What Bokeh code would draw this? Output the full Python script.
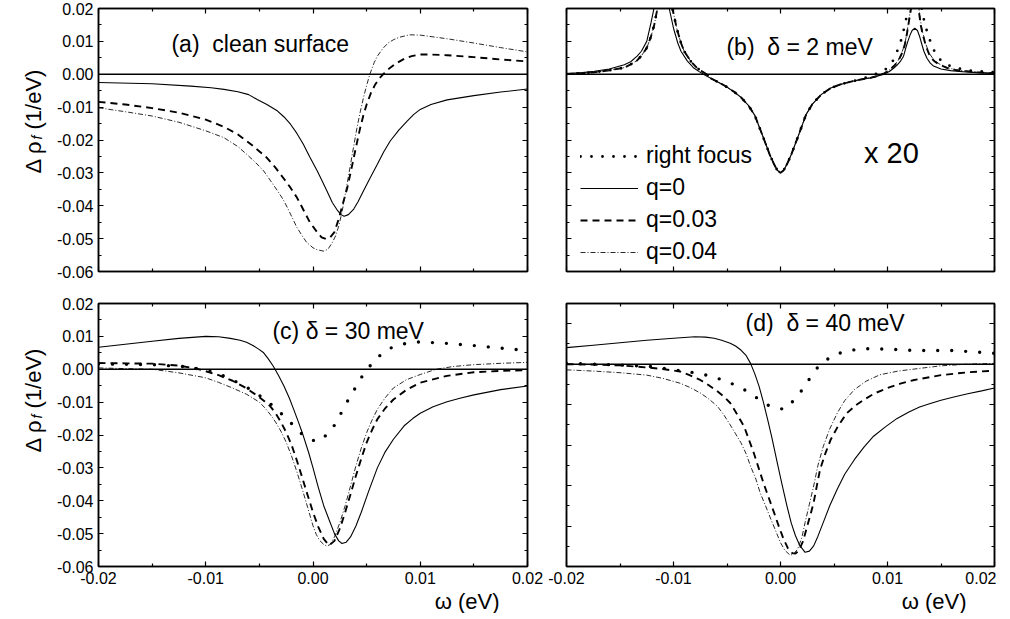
import math
from bokeh.plotting import figure
from bokeh.models import (FixedTicker, LinearAxis, Span, Label, Legend, LegendItem, Title,
                          CustomJSTickFormatter, PrintfTickFormatter, Range1d)
from bokeh.layouts import column, row
from bokeh.embed import file_html
from bokeh.resources import INLINE

FONT = "Liberation Sans"

# ---------------- tick values ----------------
x_ticks = [-0.02, -0.01, 0.0, 0.01, 0.02]
x_minor = [-0.015, -0.005, 0.005, 0.015]
y_ticks = [-0.06, -0.05, -0.04, -0.03, -0.02, -0.01, 0.0, 0.01, 0.02]
y_minor = [-0.055, -0.045, -0.035, -0.025, -0.015, -0.005, 0.005, 0.015]
yd_ticks = [-0.05, -0.04, -0.03, -0.02, -0.01, 0.0, 0.01]
yd_minor = [-0.045, -0.035, -0.025, -0.015, -0.005, 0.005, 0.015]

# ---------------- panel (a): clean surface  (omega, d rho) ----------------
a_q0 = [(-0.02, -0.0025), (-0.015, -0.0029), (-0.0114, -0.0036), (-0.0095, -0.0041), (-0.0083, -0.0046),
        (-0.007, -0.0053), (-0.006, -0.0062), (-0.0052, -0.0077), (-0.0043, -0.0092), (-0.0033, -0.0112),
        (-0.0027, -0.0130), (-0.0021, -0.0152), (-0.0015, -0.0180), (-0.0009, -0.0213), (-0.0003, -0.0252),
        (0.0004, -0.0294), (0.0009, -0.0328), (0.0013, -0.0355), (0.0018, -0.0390), (0.0023, -0.0415),
        (0.0026, -0.0427), (0.0029, -0.0432), (0.0033, -0.0427), (0.0038, -0.0410), (0.0042, -0.0388),
        (0.0047, -0.0355), (0.0053, -0.0317), (0.006, -0.0274), (0.0066, -0.0236), (0.0072, -0.0203),
        (0.008, -0.0170), (0.0088, -0.0142), (0.0094, -0.0122), (0.01, -0.0107), (0.011, -0.0092),
        (0.0125, -0.0078), (0.015, -0.0065), (0.0175, -0.0054), (0.02, -0.0045)]
a_q3 = [(-0.02, -0.0084), (-0.0175, -0.0092), (-0.015, -0.0103), (-0.0125, -0.0117), (-0.01, -0.0138),
        (-0.0083, -0.0160), (-0.007, -0.0183), (-0.0057, -0.0215), (-0.0043, -0.0254), (-0.0035, -0.0284),
        (-0.0028, -0.0314), (-0.0021, -0.0345), (-0.0015, -0.0375), (-0.0009, -0.0412), (-0.0003, -0.0450),
        (0.0004, -0.0481), (0.0008, -0.0496), (0.0012, -0.0501), (0.0016, -0.0496), (0.002, -0.0480),
        (0.0024, -0.0440), (0.0028, -0.0392), (0.0032, -0.0345), (0.0035, -0.0300), (0.0038, -0.0254),
        (0.0041, -0.0208), (0.0044, -0.0163), (0.0047, -0.0125), (0.005, -0.0092), (0.0054, -0.0057),
        (0.0058, -0.0031), (0.0062, -0.0012), (0.0066, 0.0002), (0.0072, 0.0020), (0.0078, 0.0034),
        (0.0085, 0.0047), (0.0092, 0.0055), (0.01, 0.0060), (0.011, 0.0060), (0.0125, 0.0058),
        (0.015, 0.0052), (0.0175, 0.0045), (0.02, 0.0039)]
a_q4 = [(-0.02, -0.0102), (-0.0175, -0.0114), (-0.015, -0.0127), (-0.0125, -0.0146), (-0.01, -0.0172),
        (-0.0083, -0.0193), (-0.007, -0.0220), (-0.0062, -0.0243), (-0.0054, -0.0267), (-0.0046, -0.0294),
        (-0.004, -0.0322), (-0.0033, -0.0355), (-0.0028, -0.0380), (-0.0024, -0.0405), (-0.002, -0.0432),
        (-0.0015, -0.0466), (-0.001, -0.0492), (-0.0006, -0.0511), (0.0, -0.0528), (0.0004, -0.0534),
        (0.001, -0.0538), (0.0014, -0.0532), (0.0018, -0.0512), (0.0021, -0.0492), (0.0024, -0.0462),
        (0.0027, -0.0420), (0.0029, -0.0385), (0.0032, -0.0330), (0.0035, -0.0274), (0.0038, -0.0218),
        (0.0041, -0.0163), (0.0044, -0.0115), (0.0047, -0.0072), (0.005, -0.0034), (0.0053, 0.0),
        (0.0057, 0.0035), (0.006, 0.0055), (0.0065, 0.0078), (0.007, 0.0095), (0.0075, 0.0105),
        (0.008, 0.0112), (0.009, 0.0120), (0.01, 0.0119), (0.0125, 0.0108), (0.015, 0.0095),
        (0.0175, 0.0081), (0.02, 0.0068)]

# ---------------- panel (b): delta = 2 meV (x 20) ----------------
b_left_q0 = [(-0.02, 0.0002), (-0.0185, 0.0005), (-0.0174, 0.0009), (-0.016, 0.0016), (-0.0146, 0.0029),
             (-0.014, 0.0038), (-0.0134, 0.0055), (-0.013, 0.0070), (-0.0125, 0.0100), (-0.0121, 0.0157),
             (-0.0117, 0.0220), (-0.0113, 0.0300), (-0.011, 0.0350), (-0.0107, 0.0280), (-0.0104, 0.0200),
             (-0.01, 0.0140), (-0.0096, 0.0095), (-0.0093, 0.0070), (-0.0087, 0.0040), (-0.0081, 0.0019),
             (-0.0076, 0.0008), (-0.0072, 0.0)]
b_left_q = [(-0.02, 0.0001), (-0.0185, 0.0003), (-0.0174, 0.0006), (-0.016, 0.0012), (-0.0146, 0.0020),
            (-0.014, 0.0030), (-0.0134, 0.0042), (-0.013, 0.0056), (-0.0125, 0.0080), (-0.0121, 0.0115),
            (-0.0118, 0.0150), (-0.0115, 0.0200), (-0.0111, 0.0280), (-0.0107, 0.0350), (-0.0104, 0.0280),
            (-0.0101, 0.0200), (-0.0097, 0.0140), (-0.0093, 0.0095), (-0.009, 0.0070), (-0.0084, 0.0040),
            (-0.0078, 0.0019), (-0.0073, 0.0008), (-0.0069, 0.0)]
b_dip = [(-0.0066, -0.0011), (-0.006, -0.0021), (-0.0052, -0.0035), (-0.0044, -0.0052), (-0.0037, -0.0070),
         (-0.003, -0.0095), (-0.0024, -0.0125), (-0.0016, -0.0193), (-0.001, -0.0245), (-0.0006, -0.0274),
         (-0.0003, -0.0292), (0.0, -0.0300), (0.0003, -0.0292), (0.0006, -0.0274), (0.001, -0.0245),
         (0.0016, -0.0193), (0.0024, -0.0122), (0.003, -0.0090), (0.0038, -0.0062), (0.0047, -0.0042),
         (0.0056, -0.0031), (0.0065, -0.0023), (0.0075, -0.0016), (0.0084, -0.0011), (0.0091, -0.0005)]
b_right_q0 = [(0.0097, 0.0), (0.0102, 0.0009), (0.0106, 0.0019), (0.0109, 0.0028), (0.0112, 0.0039),
              (0.0115, 0.0055), (0.0117, 0.0079), (0.0119, 0.0100), (0.0121, 0.0119), (0.0123, 0.0133),
              (0.01255, 0.0140), (0.0128, 0.0133), (0.013, 0.0115), (0.0132, 0.0092), (0.0134, 0.0070),
              (0.0137, 0.0048), (0.014, 0.0034), (0.0143, 0.0025), (0.015, 0.0016), (0.0159, 0.0011),
              (0.017, 0.0008), (0.0184, 0.0005), (0.02, 0.0002)]
b_right_q3 = [(0.0097, 0.0003), (0.0102, 0.0013), (0.0106, 0.0025), (0.011, 0.0040), (0.0113, 0.0060),
              (0.0116, 0.0088), (0.0118, 0.0120), (0.012, 0.0160), (0.0122, 0.0200), (0.0124, 0.0280),
              (0.01255, 0.0350), (0.0127, 0.0280), (0.0129, 0.0200), (0.0131, 0.0150), (0.0133, 0.0120),
              (0.0136, 0.0085), (0.0139, 0.0060), (0.0143, 0.0042), (0.0148, 0.0030), (0.0156, 0.0019),
              (0.0165, 0.0012), (0.0184, 0.0006), (0.02, 0.0003)]
b_right_q4 = [(0.0097, 0.0003), (0.0102, 0.0014), (0.0106, 0.0026), (0.011, 0.0042), (0.0113, 0.0062),
              (0.0116, 0.0090), (0.0118, 0.0122), (0.012, 0.0165), (0.0122, 0.0210), (0.0124, 0.0290),
              (0.01255, 0.0350), (0.0127, 0.0290), (0.0129, 0.0210), (0.0131, 0.0160), (0.0133, 0.0125),
              (0.0136, 0.0090), (0.0139, 0.0064), (0.0143, 0.0045), (0.0148, 0.0032), (0.0156, 0.0020),
              (0.0165, 0.0013), (0.0184, 0.0006), (0.02, 0.0003)]
b_right_rf = [(0.0095, 0.0008), (0.0099, 0.0017), (0.0103, 0.0030), (0.0106, 0.0046), (0.0109, 0.0070),
              (0.0112, 0.0095), (0.0114, 0.0120), (0.0117, 0.0160), (0.0119, 0.0200), (0.0122, 0.0280),
              (0.01255, 0.0400), (0.0129, 0.0280), (0.0132, 0.0200), (0.0135, 0.0150), (0.0137, 0.0130),
              (0.014, 0.0100), (0.0142, 0.0080), (0.0146, 0.0060), (0.0149, 0.0045), (0.0155, 0.0032),
              (0.016, 0.0022), (0.0175, 0.0012), (0.019, 0.0008), (0.02, 0.0006)]

# ---------------- panel (c): delta = 30 meV ----------------
c_q0 = [(-0.02, 0.0067), (-0.0175, 0.0076), (-0.015, 0.0085), (-0.0125, 0.0094), (-0.01, 0.0100),
        (-0.0088, 0.0099), (-0.0077, 0.0094), (-0.0068, 0.0088), (-0.0062, 0.0082), (-0.0056, 0.0072),
        (-0.0051, 0.0062), (-0.0046, 0.0050), (-0.0042, 0.0033), (-0.0037, 0.0009), (-0.0032, -0.0020),
        (-0.0027, -0.0052), (-0.0022, -0.0088), (-0.0018, -0.0122), (-0.0014, -0.0157), (-0.001, -0.0193),
        (-0.0004, -0.0254), (0.0, -0.0300), (0.0005, -0.0360), (0.001, -0.0415), (0.0015, -0.0458),
        (0.002, -0.0500), (0.0024, -0.0522), (0.0027, -0.0530), (0.0031, -0.0526), (0.0035, -0.0510),
        (0.004, -0.0477), (0.0045, -0.0435), (0.0052, -0.0370), (0.006, -0.0300), (0.0067, -0.0253),
        (0.0075, -0.0213), (0.0085, -0.0172), (0.0093, -0.0150), (0.01, -0.0134), (0.0112, -0.0114),
        (0.0125, -0.0099), (0.0137, -0.0088), (0.015, -0.0078), (0.0175, -0.0062), (0.02, -0.0051)]
c_q3 = [(-0.02, 0.0019), (-0.0175, 0.0018), (-0.015, 0.0017), (-0.0125, 0.0011), (-0.011, 0.0003),
        (-0.01, -0.0006), (-0.0088, -0.0018), (-0.0075, -0.0035), (-0.0062, -0.0058), (-0.005, -0.0085),
        (-0.0045, -0.0098), (-0.004, -0.0112), (-0.0035, -0.0133), (-0.003, -0.0160), (-0.0025, -0.0192),
        (-0.002, -0.0230), (-0.0015, -0.0278), (-0.001, -0.0330), (-0.0005, -0.0383), (0.0, -0.0435),
        (0.0005, -0.0480), (0.001, -0.0516), (0.0015, -0.0536), (0.002, -0.0522), (0.0025, -0.0485),
        (0.003, -0.0435), (0.0035, -0.0380), (0.004, -0.0324), (0.0045, -0.0272), (0.005, -0.0223),
        (0.0055, -0.0185), (0.006, -0.0152), (0.0067, -0.0120), (0.0075, -0.0092), (0.0087, -0.0063),
        (0.01, -0.0041), (0.0125, -0.0020), (0.015, -0.0009), (0.0175, -0.0005), (0.02, -0.0003)]
c_q4 = [(-0.02, 0.0004), (-0.0175, 0.0002), (-0.015, 0.0), (-0.0125, -0.0011), (-0.01, -0.0026),
        (-0.0088, -0.0040), (-0.0075, -0.0057), (-0.0062, -0.0076), (-0.005, -0.0100), (-0.0045, -0.0117),
        (-0.004, -0.0137), (-0.0035, -0.0160), (-0.003, -0.0188), (-0.0025, -0.0222), (-0.002, -0.0264),
        (-0.0015, -0.0312), (-0.001, -0.0365), (-0.0005, -0.0420), (0.0, -0.0476), (0.0003, -0.0502),
        (0.0006, -0.0520), (0.001, -0.0533), (0.0013, -0.0538), (0.0016, -0.0533), (0.002, -0.0510),
        (0.0025, -0.0467), (0.003, -0.0415), (0.0035, -0.0355), (0.004, -0.0294), (0.0045, -0.0240),
        (0.005, -0.0193), (0.0055, -0.0155), (0.006, -0.0122), (0.0067, -0.0088), (0.0075, -0.0057),
        (0.0087, -0.0032), (0.01, -0.0016), (0.0115, 0.0), (0.013, 0.0008), (0.015, 0.0014),
        (0.0175, 0.0018), (0.02, 0.0021)]
c_rf = [(-0.02, 0.0016), (-0.015, 0.0014), (-0.012, 0.0008), (-0.01, -0.0002), (-0.0085, -0.0018),
        (-0.0065, -0.0048), (-0.0051, -0.0077), (-0.0037, -0.0112), (-0.0024, -0.0152), (-0.001, -0.0198),
        (0.0003, -0.0221), (0.0016, -0.0193), (0.0024, -0.0147), (0.0031, -0.0104), (0.0039, -0.0059),
        (0.0047, -0.0015), (0.0058, 0.0030), (0.007, 0.0062), (0.0084, 0.0077), (0.0097, 0.0083),
        (0.012, 0.0080), (0.015, 0.0072), (0.02, 0.0057)]

# ---------------- panel (d): delta = 40 meV ----------------
d_q0 = [(-0.02, 0.0041), (-0.0175, 0.0047), (-0.015, 0.0053), (-0.0125, 0.0059), (-0.01, 0.0064),
        (-0.008, 0.0068), (-0.007, 0.0067), (-0.0062, 0.0064), (-0.0055, 0.0059), (-0.0047, 0.0052),
        (-0.0042, 0.0045), (-0.0037, 0.0035), (-0.0032, 0.0021), (-0.0028, 0.0002), (-0.0024, -0.0024),
        (-0.002, -0.0055), (-0.0016, -0.0094), (-0.0012, -0.0137), (-0.0008, -0.0182), (-0.0003, -0.0244),
        (0.0001, -0.0292), (0.0006, -0.0350), (0.001, -0.0392), (0.0014, -0.0424), (0.0018, -0.0448),
        (0.0023, -0.0465), (0.0027, -0.0462), (0.0031, -0.0449), (0.0035, -0.0425), (0.004, -0.0391),
        (0.0046, -0.0350), (0.0053, -0.0309), (0.006, -0.0272), (0.0069, -0.0236), (0.0078, -0.0205),
        (0.0087, -0.0178), (0.0098, -0.0155), (0.0109, -0.0134), (0.012, -0.0118), (0.013, -0.0106),
        (0.014, -0.0097), (0.015, -0.0089), (0.0162, -0.0081), (0.0175, -0.0073), (0.0188, -0.0066),
        (0.02, -0.0059)]
d_q3 = [(-0.02, 0.0), (-0.0175, -0.0001), (-0.015, -0.0003), (-0.0125, -0.0008), (-0.011, -0.0012),
        (-0.0094, -0.0018), (-0.0085, -0.0027), (-0.0075, -0.0039), (-0.0067, -0.0052), (-0.0059, -0.0067),
        (-0.0053, -0.0080), (-0.0047, -0.0096), (-0.0041, -0.0122), (-0.0034, -0.0154), (-0.003, -0.0183),
        (-0.0025, -0.0219), (-0.002, -0.0260), (-0.0016, -0.0293), (-0.0011, -0.0330), (-0.0006, -0.0367),
        (-0.0001, -0.0405), (0.0003, -0.0433), (0.0007, -0.0455), (0.0011, -0.0467), (0.0014, -0.0468),
        (0.0017, -0.0461), (0.0021, -0.0438), (0.0025, -0.0400), (0.0028, -0.0372), (0.0031, -0.0342),
        (0.0034, -0.0300), (0.0037, -0.0260), (0.0042, -0.0220), (0.0047, -0.0186), (0.0054, -0.0152),
        (0.0062, -0.0121), (0.007, -0.0102), (0.0078, -0.0088), (0.0088, -0.0072), (0.01, -0.0059),
        (0.0112, -0.0048), (0.0125, -0.0039), (0.015, -0.0027), (0.0175, -0.0020), (0.02, -0.0016)]
d_q4 = [(-0.02, -0.0014), (-0.0175, -0.0017), (-0.015, -0.0021), (-0.0125, -0.0027), (-0.011, -0.0035),
        (-0.0094, -0.0047), (-0.0085, -0.0057), (-0.0075, -0.0071), (-0.0067, -0.0086), (-0.0059, -0.0104),
        (-0.0053, -0.0125), (-0.0047, -0.0150), (-0.0042, -0.0172), (-0.0037, -0.0194), (-0.0032, -0.0222),
        (-0.0028, -0.0252), (-0.0023, -0.0284), (-0.0019, -0.0318), (-0.0014, -0.0350), (-0.0009, -0.0383),
        (-0.0004, -0.0415), (0.0, -0.0441), (0.0004, -0.0460), (0.0009, -0.0472), (0.0012, -0.0470),
        (0.0016, -0.0457), (0.002, -0.0428), (0.0023, -0.0391), (0.0027, -0.0346), (0.0031, -0.0301),
        (0.0035, -0.0250), (0.004, -0.0203), (0.0046, -0.0160), (0.0053, -0.0121), (0.006, -0.0090),
        (0.0069, -0.0063), (0.008, -0.0042), (0.0093, -0.0026), (0.011, -0.0017), (0.0125, -0.0012),
        (0.015, -0.0004), (0.0175, 0.0), (0.02, 0.0002)]
d_rf = [(-0.02, 0.0002), (-0.015, -0.0002), (-0.012, -0.0006), (-0.0094, -0.0016), (-0.0078, -0.0022),
        (-0.0064, -0.0030), (-0.005, -0.0043), (-0.0036, -0.0059), (-0.0024, -0.0080), (-0.001, -0.0104),
        (0.0004, -0.0112), (0.0016, -0.0080), (0.0025, -0.0044), (0.0035, -0.0007), (0.0048, 0.0021),
        (0.0062, 0.0033), (0.0076, 0.0038), (0.009, 0.0038), (0.0103, 0.0037), (0.0116, 0.0035),
        (0.0128, 0.0034), (0.016, 0.0034), (0.02, 0.0027)]

# ---------------- layout constants ----------------
FH = 263
FW_L = 429
FW_R = 428
STRIP_W = 54

SOLID = dict(line_color="black", line_width=1.1)
DASH = dict(line_color="black", line_width=1.9, line_dash="7 5")
DASHDOT = dict(line_color="#111111", line_width=0.9, line_dash="5 2 1 2")
DOT = dict(line_color="black", line_width=3.4, line_dash="0 14", line_cap="round")


def xy(pts):
    return [p[0] for p in pts], [p[1] for p in pts]


def style_axis(ax, labels):
    ax.axis_line_color = "black"
    ax.axis_line_width = 1.5
    ax.major_tick_in = 5
    ax.major_tick_out = 0
    ax.minor_tick_in = 3
    ax.minor_tick_out = 0
    ax.major_tick_line_color = "black"
    ax.minor_tick_line_color = "black"
    ax.major_tick_line_width = 1.2
    ax.minor_tick_line_width = 1.2
    if labels:
        ax.formatter = PrintfTickFormatter(format="%.2f")
        ax.major_label_text_font = FONT
        ax.major_label_text_font_size = "16px"
        ax.major_label_text_color = "black"
        ax.major_label_standoff = 5
    else:
        ax.formatter = CustomJSTickFormatter(code="return ''")
        ax.major_label_text_font_size = "0px"
        ax.major_label_standoff = 0


def make_panel(fw, ylo, yhi, yt, ym, xlabels, ylabels, borders):
    l, r, t, b = borders
    p = figure(frame_width=fw, frame_height=FH,
               x_range=Range1d(-0.02, 0.02), y_range=Range1d(ylo, yhi),
               output_backend="svg", toolbar_location=None,
               x_axis_location=None, y_axis_location=None,
               min_border_left=l, min_border_right=r, min_border_top=t, min_border_bottom=b)
    p.xgrid.visible = False
    p.ygrid.visible = False
    p.outline_line_color = "black"
    p.outline_line_width = 1.5
    p.background_fill_color = "white"
    p.border_fill_color = "white"
    for loc in ("below", "above"):
        ax = LinearAxis(ticker=FixedTicker(ticks=x_ticks, minor_ticks=x_minor))
        style_axis(ax, xlabels and loc == "below")
        p.add_layout(ax, loc)
    for loc in ("left", "right"):
        ax = LinearAxis(ticker=FixedTicker(ticks=yt, minor_ticks=ym))
        style_axis(ax, ylabels and loc == "left")
        p.add_layout(ax, loc)
    p.add_layout(Span(location=0, dimension="width", line_color="black", line_width=1.6))
    return p


def add_text(p, x, y, text, size="23px"):
    p.add_layout(Label(x=x, y=y, text=text, text_font=FONT, text_font_size=size,
                       text_color="black", text_align="left", text_baseline="middle"))


def make_ylabel_strip(top, bottom, y0):
    s = figure(frame_width=STRIP_W, frame_height=FH, x_range=Range1d(0, 1), y_range=Range1d(0, 1),
               output_backend="svg", toolbar_location=None,
               x_axis_location=None, y_axis_location=None,
               min_border_left=0, min_border_right=0, min_border_top=top, min_border_bottom=bottom)
    s.xgrid.visible = False
    s.ygrid.visible = False
    s.outline_line_color = None
    s.background_fill_color = "white"
    s.border_fill_color = "white"
    common = dict(x_units="screen", y_units="screen", angle=math.pi / 2,
                  text_baseline="alphabetic", text_align="left", text_color="black", text_font=FONT)
    s.add_layout(Label(x=33, y=y0, text="Δ ρ", text_font_size="22px", **common))
    s.add_layout(Label(x=36, y=y0 + 34, text="f", text_font_size="14px",
                       text_font_style="italic", **common))
    s.add_layout(Label(x=33, y=y0 + 44, text="(1/eV)", text_font_size="22px", **common))
    return s


def add_xlabel(p):
    p.add_layout(Title(text="ω (eV)", align="right", offset=28, standoff=0,
                       text_font=FONT, text_font_size="22px", text_font_style="normal",
                       text_color="black"), "below")


# (a)
pa = make_panel(FW_L, -0.06, 0.02, y_ticks, y_minor, False, True, (98 - STRIP_W, 20, 8, 16))
pa.line(*xy(a_q0), **SOLID)
pa.line(*xy(a_q3), **DASH)
pa.line(*xy(a_q4), **DASHDOT)
add_text(pa, -0.0132, 0.0091, "(a)\u00a0 clean surface")

# (b)
pb = make_panel(FW_R, -0.06, 0.02, y_ticks, y_minor, False, False, (19, 2, 8, 16))
rb_q0 = pb.line(*xy(b_left_q0 + b_dip + b_right_q0), **SOLID)
rb_q3 = pb.line(*xy(b_left_q + b_dip + b_right_q3), **DASH)
rb_q4 = pb.line(*xy(b_left_q + b_dip + b_right_q4), **DASHDOT)
rb_rf = pb.line(*xy(b_left_q + b_dip[:-2] + b_right_rf), line_color="black", line_width=2.8,
                line_dash="0 11", line_cap="round")
add_text(pb, -0.00505, 0.0082, "(b)\u00a0 δ = 2 meV")
add_text(pb, 0.0078, -0.0239, "x 20", size="29px")
legend = Legend(items=[LegendItem(label="right focus", renderers=[rb_rf]),
                       LegendItem(label="q=0", renderers=[rb_q0]),
                       LegendItem(label="q=0.03", renderers=[rb_q3]),
                       LegendItem(label="q=0.04", renderers=[rb_q4])],
                location=(14, 6), margin=0, padding=0, spacing=5,
                glyph_width=58, glyph_height=20, label_standoff=8,
                label_text_font=FONT, label_text_font_size="23px", label_text_color="black",
                border_line_color=None, background_fill_alpha=0)
pb.add_layout(legend)

# (c)
pc = make_panel(FW_L, -0.06, 0.02, y_ticks, y_minor, True, True, (98 - STRIP_W, 20, 16, 10))
pc.line(*xy(c_q0), **SOLID)
pc.line(*xy(c_q3), **DASH)
pc.line(*xy(c_q4), **DASHDOT)
pc.line(*xy(c_rf), **DOT)
add_text(pc, -0.00378, 0.0115, "(c) δ = 30 meV")
add_xlabel(pc)

# (d)
pd = make_panel(FW_R, -0.05, 0.015, yd_ticks, yd_minor, True, False, (19, 2, 16, 10))
pd.line(*xy(d_q0), **SOLID)
pd.line(*xy(d_q3), **DASH)
pd.line(*xy(d_q4), **DASHDOT)
pd.line(*xy(d_rf), **DOT)
add_text(pd, -0.00327, 0.0102, "(d)\u00a0 δ = 40 meV")
add_xlabel(pd)

sa = make_ylabel_strip(8, 16, 98)
sc = make_ylabel_strip(16, 10, 114)

layout = column(row(sa, pa, pb), row(sc, pc, pd))
open("out.html", "w", encoding="utf-8").write(file_html(layout, INLINE))
